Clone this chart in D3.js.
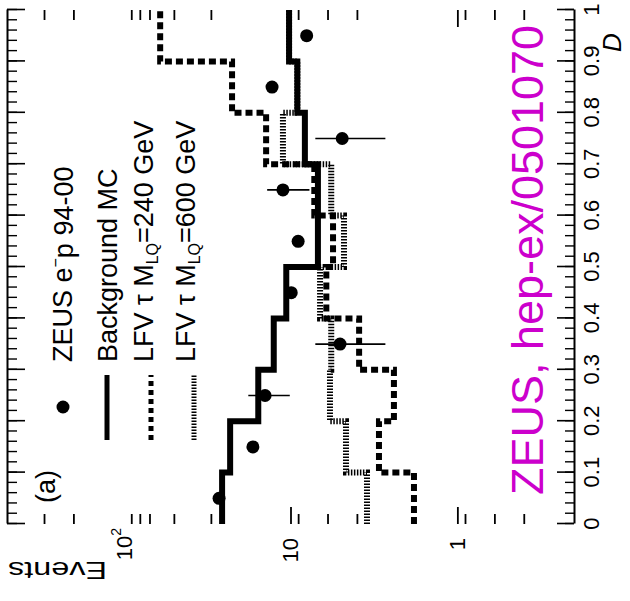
<!DOCTYPE html>
<html>
<head>
  <meta charset="utf-8">
  <title>ZEUS LFV - D distribution</title>
  <style>
  body { margin: 0; background: #fff; }
  text { font-family: "Liberation Sans", Arial, sans-serif; fill: #000; }
  .axis path, .axis line { stroke: #000; }
  </style>
</head>
<body>
  <div id="chart"></div>
  <script src="https://cdnjs.cloudflare.com/ajax/libs/d3/7.8.5/d3.min.js"></script>
  <script>
  //bin edges of the D variable and the three histograms (events per bin)
  var dEdges = [0, 0.1, 0.2, 0.3, 0.4, 0.5, 0.6, 0.7, 0.8, 0.9, 1.0];
  var bgMC   = [25.7, 23.0, 15.6, 12.6, 10.6, 6.85, 6.85, 8.2, 9.1, 10.2];
  var lfv240 = [1.82, 2.95, 2.40, 3.88, 6.1, 5.56, 7.2, 14.0, 22.4, 60.4];
  var lfv600 = [3.48, 4.65, 5.8, 5.7, 6.65, 4.78, 5.7, 11.1, 9.1, 10.2];

  //ZEUS data points, with the error bars that can be seen
  var ptD     = [0.05, 0.15, 0.25, 0.35, 0.45, 0.55, 0.65, 0.75, 0.85, 0.95];
  var ptN     = [26.8, 16.8, 14.2, 5.05, 9.9, 9.0, 11.1, 4.9, 12.9, 8.0];
  var ptErrLo = [null, null, 10.1, 2.7, null, null, 7.7, 2.7, null, null];
  var ptErrHi = [null, null, 17.9, 7.1, null, null, 13.8, 7.1, null, null];

  //tick values and labels
  var dTicks  = [0, 0.1, 0.2, 0.3, 0.4, 0.5, 0.6, 0.7, 0.8, 0.9, 1];
  var dLabels = ["0", "0.1", "0.2", "0.3", "0.4", "0.5", "0.6", "0.7", "0.8", "0.9", "1"];
  var nMajorTicks = [1, 10];
  var nMinorTicks = [0.4, 0.6, 0.9, 4, 6, 9, 30, 50, 70, 80, 90, 200, 300];
  var nLabelVals = [100, 10, 1];
  var nLabelBase = ["10", "10", "1"];
  var nLabelSup  = ["2", "", ""];

  var width = 630, height = 601;
  var svg = d3.select("#chart").append("svg")
    .attr("width", width)
    .attr("height", height);

  //the plot is drawn the normal way and then turned a quarter turn
  var g = svg.append("g")
    .attr("transform", "translate(0,524) rotate(-90)");

  var x = d3.scaleLinear().domain([0, 1]).range([0, 514]);
  var y = d3.scaleLog().domain([0.2, 500]).range([574, 7]);

  //D axis (labelled) at the bottom, ticks pointing inwards
  var xAxis = g.append("g")
    .attr("class", "axis")
    .attr("transform", "translate(0,574)")
    .call(d3.axisBottom(x).tickValues(dTicks)
      .tickFormat(function(d, i) { return dLabels[i]; })
      .tickSizeInner(-17).tickSizeOuter(0).tickPadding(9));
  xAxis.select(".domain").attr("stroke-width", 2);
  xAxis.selectAll("line").attr("stroke-width", 1.6);
  xAxis.selectAll("text").attr("font-size", 22).attr("fill", "#000");

  g.append("g")
    .attr("class", "axis")
    .attr("transform", "translate(0,574)")
    .call(d3.axisBottom(x).tickValues(d3.range(0, 1.001, 0.02))
      .tickFormat("").tickSizeInner(-9).tickSizeOuter(0))
    .call(function(s) { s.select(".domain").remove(); })
    .selectAll("line").attr("stroke-width", 1.4);

  //top frame with the same ticks
  var topAxis = g.append("g")
    .attr("class", "axis")
    .attr("transform", "translate(0,7)")
    .call(d3.axisTop(x).tickValues(dTicks).tickFormat("")
      .tickSizeInner(-18).tickSizeOuter(0));
  topAxis.select(".domain").attr("stroke-width", 2);
  topAxis.selectAll("line").attr("stroke-width", 1.6);

  g.append("g")
    .attr("class", "axis")
    .attr("transform", "translate(0,7)")
    .call(d3.axisTop(x).tickValues(d3.range(0, 1.001, 0.02))
      .tickFormat("").tickSizeInner(-10).tickSizeOuter(0))
    .call(function(s) { s.select(".domain").remove(); })
    .selectAll("line").attr("stroke-width", 1.4);

  //events axes: only tick marks, left (x=0) and right (x=514)
  [[0, d3.axisLeft], [514, d3.axisRight]].forEach(function(a) {
    g.append("g")
      .attr("class", "axis")
      .attr("transform", "translate(" + a[0] + ",0)")
      .call(a[1](y).tickValues(nMajorTicks).tickFormat("")
        .tickSizeInner(-17).tickSizeOuter(0))
      .call(function(s) { s.select(".domain").remove(); })
      .selectAll("line").attr("stroke-width", 1.8);
    g.append("g")
      .attr("class", "axis")
      .attr("transform", "translate(" + a[0] + ",0)")
      .call(a[1](y).tickValues(nMinorTicks).tickFormat("")
        .tickSizeInner(-10).tickSizeOuter(0))
      .call(function(s) { s.select(".domain").remove(); })
      .selectAll("line").attr("stroke-width", 1.8);
  });

  //events labels 10^2, 10, 1
  var nLab = g.append("g").selectAll("text")
    .data(nLabelVals)
    .enter().append("text")
    .attr("x", function(d, i) { return nLabelSup[i] ? -4 : -14; })
    .attr("y", function(d) { return y(d); })
    .attr("dy", "0.36em")
    .attr("text-anchor", "end")
    .attr("font-size", 22)
    .text(function(d, i) { return nLabelBase[i]; });
  nLab.filter(function(d, i) { return nLabelSup[i]; })
    .append("tspan")
    .attr("font-size", 14)
    .attr("dy", "-0.75em")
    .text(function(d) { return nLabelSup[nLabelVals.indexOf(d)]; });

  g.append("text")
    .attr("transform", "translate(-38,107) rotate(-90)")
    .attr("font-size", 24)
    .attr("textLength", 99)
    .attr("lengthAdjust", "spacingAndGlyphs")
    .text("Events");

  g.append("text")
    .attr("x", 472)
    .attr("y", 621)
    .attr("font-family", "DejaVu Serif, serif")
    .attr("font-style", "italic")
    .attr("font-size", 26)
    .text("D");

  //histograms as steps
  function steps(vals) {
    var pts = vals.map(function(v, i) { return [dEdges[i], v]; });
    pts.push([dEdges[vals.length], vals[vals.length - 1]]);
    return pts;
  }
  var stepLine = d3.line()
    .x(function(d) { return x(d[0]); })
    .y(function(d) { return y(d[1]); })
    .curve(d3.curveStepAfter);

  g.append("path")
    .attr("d", stepLine(steps(lfv600)))
    .attr("fill", "none").attr("stroke", "#000")
    .attr("stroke-width", 6).attr("stroke-dasharray", "1.5,1.5");
  g.append("path")
    .attr("d", stepLine(steps(lfv240)))
    .attr("fill", "none").attr("stroke", "#000")
    .attr("stroke-width", 6).attr("stroke-dasharray", "7,4");
  g.append("path")
    .attr("d", stepLine(steps(bgMC)))
    .attr("fill", "none").attr("stroke", "#000")
    .attr("stroke-width", 6);

  //data points with error bars
  g.append("g").selectAll("line")
    .data(ptD.filter(function(d, i) { return ptErrLo[i] !== null; }))
    .enter().append("line")
    .attr("x1", function(d) { return x(d); })
    .attr("x2", function(d) { return x(d); })
    .attr("y1", function(d) { return y(ptErrLo[ptD.indexOf(d)]); })
    .attr("y2", function(d) { return y(ptErrHi[ptD.indexOf(d)]); })
    .attr("stroke", "#000")
    .attr("stroke-width", 1.6);

  g.append("g").selectAll("circle")
    .data(ptD)
    .enter().append("circle")
    .attr("cx", function(d) { return x(d); })
    .attr("cy", function(d, i) { return y(ptN[i]); })
    .attr("r", 6.5)
    .attr("fill", "#000");

  //legend
  var legend = g.append("g");
  legend.append("circle").attr("cx", 117).attr("cy", 63).attr("r", 6.5).attr("fill", "#000");
  legend.append("line").attr("x1", 84).attr("x2", 149).attr("y1", 107).attr("y2", 107)
    .attr("stroke", "#000").attr("stroke-width", 5);
  legend.append("line").attr("x1", 84).attr("x2", 149).attr("y1", 151).attr("y2", 151)
    .attr("stroke", "#000").attr("stroke-width", 5).attr("stroke-dasharray", "5,4");
  legend.append("line").attr("x1", 84).attr("x2", 149).attr("y1", 194).attr("y2", 194)
    .attr("stroke", "#000").attr("stroke-width", 5).attr("stroke-dasharray", "1.5,1.5");

  var t1 = legend.append("text").attr("x", 162).attr("y", 72).attr("font-size", 27);
  t1.append("tspan").text("ZEUS e");
  t1.append("tspan").attr("font-size", 16).attr("dy", "-0.7em").text("\u2212");
  t1.append("tspan").attr("dy", "0.45em").text("p 94-00");

  legend.append("text").attr("x", 162).attr("y", 117).attr("font-size", 27)
    .text("Background MC");

  [["240", 153], ["600", 195]].forEach(function(r) {
    var t = legend.append("text").attr("x", 162).attr("y", r[1]).attr("font-size", 27);
    t.append("tspan").text("LFV \u03c4 M");
    t.append("tspan").attr("font-size", 16).attr("dy", "0.3em").text("LQ");
    t.append("tspan").attr("dy", "-0.18em").text("=" + r[0] + " GeV");
  });

  legend.append("text").attr("x", 21).attr("y", 55).attr("font-size", 27).text("(a)");

  //reference note
  g.append("text")
    .attr("x", 29)
    .attr("y", 543)
    .attr("font-family", "DejaVu Sans, sans-serif")
    .attr("font-size", 44)
    .attr("textLength", 470)
    .attr("lengthAdjust", "spacingAndGlyphs")
    .style("fill", "#cc00cc")
    .text("ZEUS, hep-ex/0501070");
  </script>
</body>
</html>
